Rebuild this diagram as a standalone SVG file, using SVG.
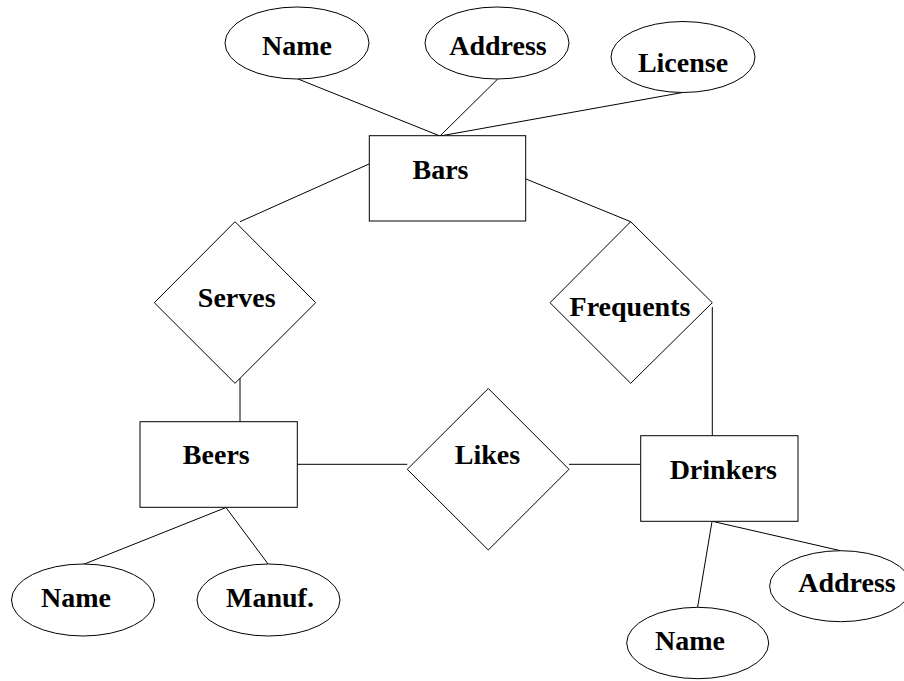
<svg xmlns="http://www.w3.org/2000/svg" width="904" height="681" viewBox="0 0 904 681">
<style>
.s{fill:#fff;stroke:#000;stroke-width:1}
.c line{stroke:#000;stroke-width:1}
text{font-family:"Liberation Serif","Times New Roman",serif;font-weight:bold;font-size:28px;text-anchor:middle;fill:#000}
</style>
<rect width="904" height="681" fill="#fff"/>
<g id="connectors" class="c">
<line x1="298" y1="79" x2="440" y2="136"/>
<line x1="497.7" y1="79" x2="440" y2="136"/>
<line x1="681.7" y1="92.7" x2="440" y2="136"/>
<line x1="369" y1="164" x2="240" y2="221.7"/>
<line x1="526" y1="179" x2="630.7" y2="221.7"/>
<line x1="240" y1="378" x2="240" y2="421.7"/>
<line x1="712.3" y1="307" x2="712.3" y2="436"/>
<line x1="297" y1="464.3" x2="407.3" y2="464.3"/>
<line x1="569" y1="464.3" x2="640.7" y2="464.3"/>
<line x1="226" y1="507.5" x2="83.6" y2="564.3"/>
<line x1="226" y1="507.5" x2="268.3" y2="564.3"/>
<line x1="712" y1="521.5" x2="697.6" y2="607.3"/>
<line x1="712.3" y1="521.3" x2="840.6" y2="550.7"/>
</g>
<g id="bars-name"><ellipse class="s" cx="297" cy="43" rx="72" ry="36"/><text x="297" y="55">Name</text></g>
<g id="bars-address"><ellipse class="s" cx="497" cy="43" rx="72" ry="36"/><text x="498" y="55">Address</text></g>
<g id="bars-license"><ellipse class="s" cx="683" cy="57" rx="72" ry="35.5"/><text x="683" y="72">License</text></g>
<g id="bars"><rect class="s" x="369.3" y="135.7" width="156.4" height="85.3"/><text x="440.5" y="179.3">Bars</text></g>
<g id="serves"><polygon class="s" points="235,221.7 315.7,302.7 235,383.3 154.3,302.7"/><text x="236.7" y="306.7">Serves</text></g>
<g id="frequents"><polygon class="s" points="630.7,221.7 712.3,302.7 630.7,383.3 550,302.7"/><text x="630" y="316">Frequents</text></g>
<g id="beers"><rect class="s" x="140" y="421.7" width="157.3" height="85.6"/><text x="216.3" y="464.3">Beers</text></g>
<g id="likes"><polygon class="s" points="488.3,388.5 569,469.3 488.3,550 407.3,469.3"/><text x="487.5" y="464.3">Likes</text></g>
<g id="drinkers"><rect class="s" x="640.7" y="435.7" width="157.3" height="85.6"/><text x="723.3" y="479.3">Drinkers</text></g>
<g id="beers-name"><ellipse class="s" cx="83" cy="600" rx="71.5" ry="36"/><text x="76" y="606.7">Name</text></g>
<g id="beers-manuf"><ellipse class="s" cx="268.5" cy="600" rx="71.5" ry="36"/><text x="270" y="606.7">Manuf.</text></g>
<g id="drinkers-name"><ellipse class="s" cx="697.7" cy="643" rx="71" ry="35.7"/><text x="690" y="650">Name</text></g>
<g id="drinkers-address"><ellipse class="s" cx="840.6" cy="586.2" rx="71" ry="35.5"/><text x="847" y="591.7">Address</text></g>
</svg>
